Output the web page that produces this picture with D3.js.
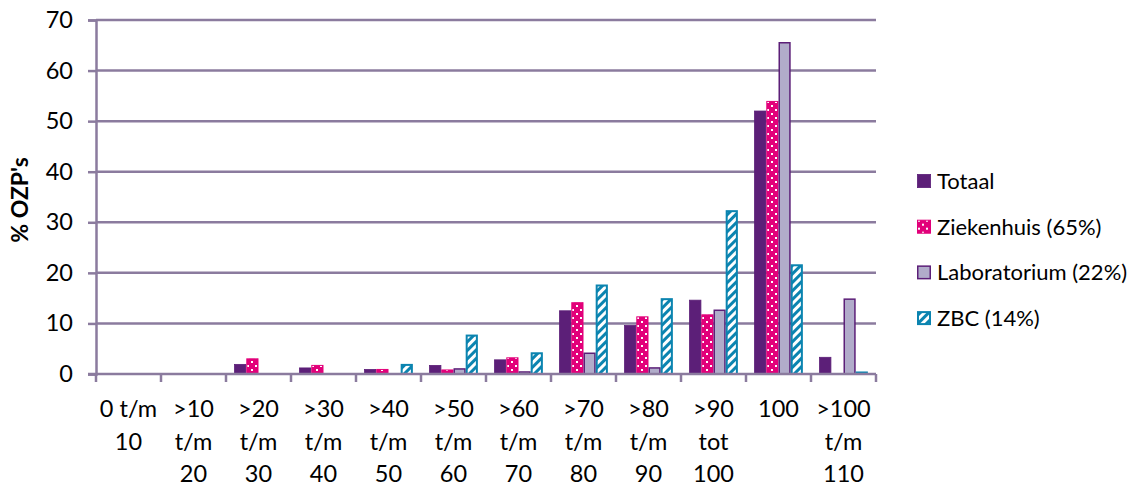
<!DOCTYPE html>
<html>
<head>
<meta charset="utf-8">
<script src="https://cdn.jsdelivr.net/npm/d3@7"></script>
<style>
  body { margin: 0; background: #fff; }
  svg { display: block; font-family: Lato, "Open Sans", sans-serif; }
</style>
</head>
<body>
<svg id="chart" width="1143" height="486"></svg>
<script>
// Category labels, one entry per line of text
const categories = [
  ["0 t/m", "10"],
  [">10", "t/m", "20"],
  [">20", "t/m", "30"],
  [">30", "t/m", "40"],
  [">40", "t/m", "50"],
  [">50", "t/m", "60"],
  [">60", "t/m", "70"],
  [">70", "t/m", "80"],
  [">80", "t/m", "90"],
  [">90", "tot", "100"],
  ["100"],
  [">100", "t/m", "110"]
];
const seriesNames = ["Totaal", "Ziekenhuis (65%)", "Laboratorium (22%)", "ZBC (14%)"];
const totaal      = [0, 0, 1.9, 1.2, 0.9, 1.7, 2.8, 12.5, 9.6, 14.6, 52.0, 3.3];
const ziekenhuis  = [0, 0, 3.0, 1.7, 0.9, 0.8, 3.2, 14.1, 11.3, 11.7, 53.9, 0];
const laboratorium= [0, 0, 0, 0, 0, 1.0, 0.4, 4.1, 1.2, 12.6, 65.5, 14.8];
const zbc         = [0, 0, 0, 0, 1.8, 7.6, 4.1, 17.5, 14.8, 32.2, 21.5, 0.3];
const yTicks = [0, 10, 20, 30, 40, 50, 60, 70];
const yTitle = "% OZP's";

const seriesValues = [totaal, ziekenhuis, laboratorium, zbc];

const svg = d3.select("#chart");
const gridColor = "#8b7b9e";
const purple = "#5c1f78";
const magenta = "#e2007a";
const lavender = "#b1acca";
const blue = "#0b84b0";

// Fill patterns
const defs = svg.append("defs");
const dots = defs.append("pattern")
  .attr("id", "dots").attr("patternUnits", "userSpaceOnUse")
  .attr("width", 8).attr("height", 8);
dots.append("rect").attr("width", 8).attr("height", 8).attr("fill", magenta);
dots.append("rect").attr("x", 1).attr("y", 1).attr("width", 2).attr("height", 2).attr("fill", "#fff");
dots.append("rect").attr("x", 5).attr("y", 5).attr("width", 2).attr("height", 2).attr("fill", "#fff");

const stripes = defs.append("pattern")
  .attr("id", "stripes").attr("patternUnits", "userSpaceOnUse")
  .attr("width", 6).attr("height", 6)
  .attr("patternTransform", "rotate(45)");
stripes.append("rect").attr("width", 6).attr("height", 6).attr("fill", blue);
stripes.append("rect").attr("x", 0).attr("width", 3).attr("height", 6).attr("fill", "#fff");

const styles = [
  { fill: purple, stroke: purple, sw: 0.8 },
  { fill: "url(#dots)", stroke: magenta, sw: 1 },
  { fill: lavender, stroke: purple, sw: 1.5 },
  { fill: "url(#stripes)", stroke: blue, sw: 2 }
];

const plotLeft = 96, plotRight = 876, plotTop = 20, plotBottom = 374;

const x = d3.scaleBand().domain(d3.range(categories.length)).range([plotLeft, plotRight]).padding(0);
const bw = x.bandwidth();
const x1 = d3.scaleBand().domain(d3.range(seriesNames.length))
  .range([bw * 0.125, bw * 0.875]).padding(0);
const y = d3.scaleLinear().domain([0, 70]).range([plotBottom, plotTop]);

// Horizontal gridlines
svg.append("g").selectAll("line").data(yTicks.filter(t => t > 0)).join("line")
  .attr("x1", plotLeft).attr("x2", plotRight)
  .attr("y1", d => y(d)).attr("y2", d => y(d))
  .attr("stroke", gridColor).attr("stroke-width", 2.5);

// Y axis
const yAxis = svg.append("g").attr("transform", `translate(${plotLeft},0)`)
  .call(d3.axisLeft(y).tickValues(yTicks).tickSize(8).tickPadding(15));
yAxis.select(".domain").attr("stroke", gridColor).attr("stroke-width", 2.5);
yAxis.selectAll(".tick line").attr("stroke", gridColor).attr("stroke-width", 2.5);
yAxis.selectAll(".tick text").attr("fill", "#000").attr("font-size", 23.5)
  .attr("font-family", "Lato, sans-serif");

// Bars
const groups = svg.append("g").selectAll("g").data(categories.map((c, i) => i)).join("g")
  .attr("transform", i => `translate(${x(i)},0)`);
groups.selectAll("rect")
  .data(i => seriesValues.map((vals, s) => ({ s, v: vals[i] })))
  .join("rect")
  .attr("x", d => x1(d.s) + styles[d.s].sw / 2)
  .attr("width", d => x1.bandwidth() - styles[d.s].sw)
  .attr("y", d => y(d.v))
  .attr("height", d => Math.max(0, y(0) - y(d.v)))
  .attr("fill", d => styles[d.s].fill)
  .attr("stroke", d => styles[d.s].stroke)
  .attr("stroke-width", d => styles[d.s].sw);

// X axis
const xAxisG = svg.append("g").attr("transform", `translate(0,${plotBottom})`);
xAxisG.append("line").attr("x1", plotLeft - 8).attr("x2", plotRight)
  .attr("stroke", gridColor).attr("stroke-width", 2.5);
xAxisG.selectAll("line.tick").data(d3.range(categories.length + 1)).join("line")
  .attr("class", "tick")
  .attr("x1", i => plotLeft + i * bw).attr("x2", i => plotLeft + i * bw)
  .attr("y1", 0).attr("y2", 8)
  .attr("stroke", gridColor).attr("stroke-width", 2.5);

const labels = svg.append("g").selectAll("text").data(categories.map((c, i) => i)).join("text")
  .attr("text-anchor", "middle").attr("font-size", 23.5).attr("fill", "#000");
labels.selectAll("tspan").data(i => categories[i].map(t => ({ i, t }))).join("tspan")
  .attr("x", d => x(d.i) + bw / 2)
  .attr("y", (d, k) => 417 + k * 32.5)
  .text(d => d.t);

// Y axis title
svg.append("text")
  .attr("transform", `translate(28,200) rotate(-90)`)
  .attr("text-anchor", "middle").attr("font-size", 23).attr("font-weight", "bold")
  .text(yTitle);

// Legend
const legend = svg.append("g").selectAll("g").data(seriesNames).join("g")
  .attr("transform", (d, i) => `translate(917,${181 + i * 45.7})`);
legend.append("rect")
  .attr("x", (d, i) => styles[i].sw / 2).attr("y", (d, i) => -7 + styles[i].sw / 2)
  .attr("width", (d, i) => 14 - styles[i].sw).attr("height", (d, i) => 14 - styles[i].sw)
  .attr("fill", (d, i) => styles[i].fill)
  .attr("stroke", (d, i) => styles[i].stroke)
  .attr("stroke-width", (d, i) => styles[i].sw);
legend.append("text").attr("x", 20).attr("y", 8)
  .attr("font-size", 22).attr("fill", "#000").text(d => d);
</script>
</body>
</html>
